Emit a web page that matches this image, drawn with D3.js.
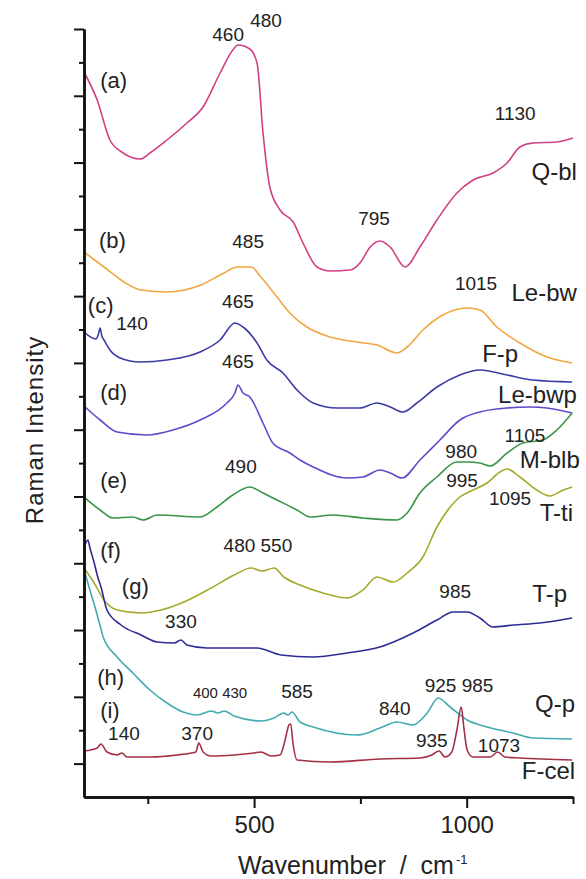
<!DOCTYPE html>
<html><head><meta charset="utf-8">
<script src="https://cdn.jsdelivr.net/npm/d3@7"></script>
<style>
html,body{margin:0;padding:0;background:#fff;}
text{font-family:"Liberation Sans",Arial,sans-serif;fill:#222;}
</style></head>
<body><svg id="chart" width="586" height="879"></svg>
<script>
// ---- data (wavenumber cm-1, Raman intensity a.u., curves stacked with offsets) ----
const qbl   = [[100,725],[131,697],[161,657],[192,644],[232,638],[255,644],[295,657],[342,674],[380,690],[420,724],[450,747],[462,752],[490,748],[507,734],[521,664],[537,610],[561,587],[592,575],[615,554],[648,530],[679,526],[726,527],[749,534],[773,550],[796,556],[820,550],[855,530],[890,550],[930,577],[977,604],[1015,617],[1062,624],[1095,634],[1125,650],[1156,654],[1212,655],[1250,659]];
const leBw  = [[100,545],[147,530],[194,515],[234,507],[295,505],[375,512],[429,524],[460,530],[493,530],[516,520],[554,500],[584,484],[624,470],[679,460],[742,455],[789,452],[836,444],[860,450],[897,467],[944,482],[1001,489],[1031,487],[1071,470],[1125,454],[1189,440],[1248,434]];
const fp    = [[100,465],[128,458],[134,463],[138,469],[142,461],[147,457],[161,447],[185,439],[232,435],[295,437],[373,445],[420,457],[455,474],[474,470],[507,454],[530,437],[568,424],[601,407],[639,394],[695,389],[749,389],[789,394],[820,390],[850,385],[883,394],[930,410],[984,422],[1031,427],[1095,422],[1156,417],[1248,415]];
const leBwp = [[100,391],[138,377],[178,365],[248,362],[309,367],[373,377],[436,394],[455,404],[462,412],[474,404],[490,400],[521,374],[544,354],[584,344],[608,337],[639,330],[719,319],[756,320],[796,327],[820,324],[848,319],[890,337],[937,357],[984,377],[1031,385],[1095,389],[1149,390],[1189,389],[1248,384]];
const mblb  = [[100,300],[138,287],[168,279],[215,280],[239,277],[272,282],[373,280],[413,290],[450,302],[490,310],[521,304],[554,297],[601,287],[632,280],[686,282],[756,279],[836,277],[860,284],[890,304],[930,320],[977,335],[1001,335],[1031,334],[1055,331],[1095,344],[1132,354],[1179,357],[1212,367],[1248,384]];
const tti   = [[100,229],[124,214],[147,197],[178,187],[234,184],[281,187],[335,195],[399,209],[453,222],[493,229],[519,226],[547,229],[570,220],[608,212],[662,204],[719,199],[756,207],[789,220],[827,215],[860,224],[897,240],[930,270],[961,290],[984,300],[1015,307],[1048,314],[1078,325],[1095,328],[1125,320],[1165,307],[1196,301],[1227,307],[1248,310]];
const tp    = [[100,249],[109,257],[114,249],[124,234],[133,219],[140,210],[154,187],[187,172],[234,162],[272,155],[312,154],[328,157],[342,152],[389,149],[453,149],[507,149],[563,142],[639,140],[719,144],[796,150],[874,164],[930,177],[968,185],[1001,185],[1031,179],[1062,170],[1109,172],[1172,174],[1248,179]];
const qp    = [[100,227],[116,204],[121,197],[140,168],[145,160],[178,140],[215,124],[255,107],[295,94],[333,85],[366,82],[400,86],[415,84],[430,86],[453,81],[516,76],[547,79],[570,84],[580,82],[589,85],[608,75],[639,70],[742,62],[796,69],[836,75],[874,72],[907,84],[933,99],[961,90],[1001,77],[1048,70],[1109,64],[1156,59],[1248,58]];
const fcel  = [[100,46],[131,49],[140,53],[154,45],[178,42],[189,44],[201,40],[258,40],[319,42],[352,44],[363,45],[370,54],[380,45],[399,41],[453,42],[500,44],[516,45],[540,41],[561,42],[573,57],[582,72],[586,73],[592,52],[601,37],[679,35],[796,38],[890,39],[918,42],[935,46],[949,40],[965,45],[977,67],[987,90],[994,67],[1001,47],[1015,40],[1055,40],[1073,45],[1090,40],[1125,39],[1248,37]];

const seriesNames  = ["Q-bl","Le-bw","F-p","Le-bwp","M-blb","T-ti","T-p","Q-p","F-cel"];
const seriesData   = [qbl, leBw, fp, leBwp, mblb, tti, tp, qp, fcel];
const seriesColors = ["#d13f85","#f0a640","#3c3ca6","#6248cc","#3a9447","#a5a92c","#2c2c94","#40acb0","#a33045"];

// name labels: [text, wavenumber at right end, intensity at baseline]
const nameLabels = [["Q-bl",1259,617],["Le-bw",1259,496],["F-p",1121,435],["Le-bwp",1259,394],["M-blb",1266,329],["T-ti",1250,276],["T-p",1236,195],["Q-p",1255,85],["F-cel",1255,18]];
// letter labels: [text, wavenumber at left, intensity at baseline]
const letterLabels = [["(a)",138,709],["(b)",135,549],["(c)",109,484],["(d)",138,397],["(e)",138,309],["(f)",138,239],["(g)",189,203],["(h)",131,112],["(i)",138,79]];
// peak labels: [text, wavenumber at centre, intensity at baseline]
const peakLabels = [["460",439,756],["480",528,770],["485",486,549],["795",782,572],["1130",1114,677],["1015",1022,507],["140",213,467],["465",462,489],["465",462,429],["490",469,324],["980",987,339],["1105",1137,355],["995",989,310],["1095",1102,292],["480 550",509,245],["330",328,169],["985",973,199],["585",601,99],["840",831,82],["925 985",982,105],["140",194,57],["370",366,57],["935",918,50],["1073",1076,45]];
const smallPeakLabels = [["400 430",420,99]];

const xMajorTicks = [500, 1000];
const xMinorTicks = [250, 750, 1250];
const yTickCount = 23;
const yMax = 768;

// ---- drawing ----
const svg = d3.select("#chart");
const x = d3.scaleLinear().domain([100, 1250]).range([84, 573]);
const y = d3.scaleLinear().domain([0, yMax]).range([797, 29]);

const line = d3.line().x(d => x(d[0])).y(d => y(d[1])).curve(d3.curveMonotoneX);
seriesData.forEach((s, i) => {
  svg.append("path").datum(s).attr("d", line)
    .attr("fill", "none").attr("stroke", seriesColors[i])
    .attr("stroke-width", 1.6).attr("stroke-linejoin", "round");
});

// axes
const yTicks = d3.range(0, yTickCount + 1).map(i => i * yMax / yTickCount);
const yMajor = yTicks.filter((d, i) => i % 2 === 1);
const yMinor = yTicks.filter((d, i) => i % 2 === 0 && i > 0);

function styleAxis(g) {
  g.selectAll("path").attr("stroke", "#111").attr("stroke-width", 2.5);
  g.selectAll("line").attr("stroke", "#111").attr("stroke-width", 2);
}
svg.append("g").attr("transform", "translate(84,0)")
  .call(d3.axisLeft(y).tickValues(yMinor).tickSize(5).tickSizeOuter(0).tickFormat(""))
  .call(styleAxis);
svg.append("g").attr("transform", "translate(84,0)")
  .call(d3.axisLeft(y).tickValues(yMajor).tickSize(10).tickSizeOuter(0).tickFormat(""))
  .call(styleAxis);
svg.append("g").attr("transform", "translate(0,797)")
  .call(d3.axisBottom(x).tickValues(xMinorTicks).tickSize(7).tickSizeOuter(0).tickFormat(""))
  .call(styleAxis);
const xa = svg.append("g").attr("transform", "translate(0,797)")
  .call(d3.axisBottom(x).tickValues(xMajorTicks).tickSize(11).tickPadding(8).tickSizeOuter(0).tickFormat(d3.format("d")))
  .call(styleAxis);
xa.selectAll("text").attr("font-size", 24).attr("fill", "#222")
  .attr("font-family", "'Liberation Sans',Arial,sans-serif");

// axis titles
const xt = svg.append("text").attr("x", 238).attr("y", 874).attr("font-size", 25)
  .attr("word-spacing", 7);
xt.append("tspan").text("Wavenumber / cm");
xt.append("tspan").attr("font-size", 13).attr("dy", -10).attr("dx", 2).text("-1");

svg.append("text").attr("transform", "translate(43,430) rotate(-90)")
  .attr("text-anchor", "middle").attr("font-size", 24).attr("letter-spacing", 1)
  .text("Raman Intensity");

// annotations
svg.selectAll(".nm").data(nameLabels).join("text").attr("class", "nm")
  .attr("x", d => x(d[1])).attr("y", d => y(d[2])).attr("text-anchor", "end")
  .attr("font-size", 24).text(d => d[0]);
svg.selectAll(".lt").data(letterLabels).join("text").attr("class", "lt")
  .attr("x", d => x(d[1])).attr("y", d => y(d[2])).attr("font-size", 22).text(d => d[0]);
svg.selectAll(".pk").data(peakLabels).join("text").attr("class", "pk")
  .attr("x", d => x(d[1])).attr("y", d => y(d[2])).attr("text-anchor", "middle")
  .attr("font-size", 19).text(d => d[0]);
svg.selectAll(".spk").data(smallPeakLabels).join("text").attr("class", "spk")
  .attr("x", d => x(d[1])).attr("y", d => y(d[2])).attr("text-anchor", "middle")
  .attr("font-size", 15).text(d => d[0]);
</script></body></html>
